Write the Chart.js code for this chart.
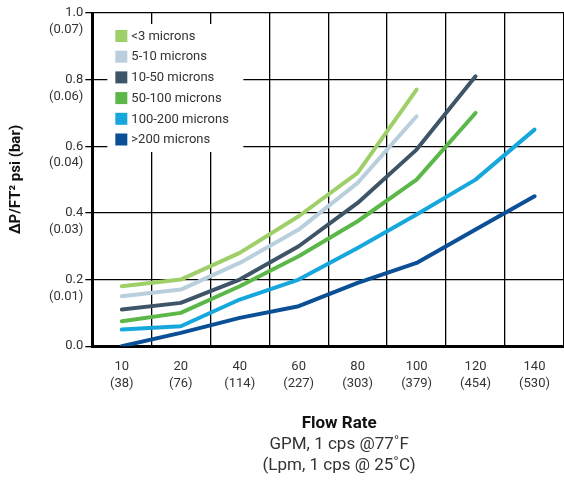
<!DOCTYPE html>
<html>
<head>
<meta charset="utf-8">
<script src="https://cdn.jsdelivr.net/npm/chart.js@4.4.0/dist/chart.umd.min.js"></script>
<style>
html, body { margin: 0; padding: 0; background: #fff; }
#wrap { width: 564px; height: 482px; }
</style>
</head>
<body>
<div id="wrap"><canvas id="myChart"></canvas></div>
<script>
// flow rate categories
const flowGpm = ["10", "20", "40", "60", "80", "100", "120", "140"];
const flowLpm = ["38", "76", "114", "227", "303", "379", "454", "530"];
// y axis, psi with bar below
const psiTicks = [0, 0.2, 0.4, 0.6, 0.8, 1.0];
const barTicks = ["", "(0.01)", "(0.03)", "(0.04)", "(0.06)", "(0.07)"];
// series
const micronLabels = ["<3 microns", "5-10 microns", "10-50 microns", "50-100 microns", "100-200 microns", ">200 microns"];
const under3 = [0.18, 0.20, 0.28, 0.39, 0.52, 0.77];
const from5to10 = [0.15, 0.17, 0.25, 0.35, 0.49, 0.69];
const from10to50 = [0.11, 0.13, 0.20, 0.30, 0.43, 0.59, 0.81];
const from50to100 = [0.075, 0.10, 0.18, 0.27, 0.375, 0.50, 0.70];
const from100to200 = [0.05, 0.06, 0.14, 0.20, 0.295, 0.395, 0.50, 0.65];
const over200 = [0.0, 0.04, 0.085, 0.12, 0.19, 0.25, 0.35, 0.45];
const lineColors = ["#9fcf68", "#b9cfdd", "#3e5568", "#5bb848", "#16a8dd", "#0b4f97"];

const seriesValues = [under3, from5to10, from10to50, from50to100, from100to200, over200];
const FONT = "Roboto, 'Noto Sans', sans-serif";

// legend in a white box inside the plot
const boxLegend = {
  id: "boxLegend",
  afterDraw(chart) {
    const ctx = chart.ctx, a = chart.chartArea;
    const x0 = a.left + 15, y0 = a.top + 11;
    ctx.save();
    ctx.fillStyle = "#fff";
    ctx.fillRect(x0, y0, 136, 128);
    ctx.font = "13px " + FONT;
    ctx.textBaseline = "middle";
    chart.data.datasets.forEach(function (ds, i) {
      const y = y0 + 6 + i * 20.7;
      ctx.fillStyle = ds.borderColor;
      ctx.fillRect(x0 + 8, y, 12, 12);
      ctx.fillStyle = "#333";
      ctx.fillText(ds.label, x0 + 24, y + 6.5);
    });
    ctx.restore();
  }
};

// x axis title, bold line then two plain lines
const flowTitle = {
  id: "flowTitle",
  afterDraw(chart) {
    const ctx = chart.ctx, a = chart.chartArea;
    const cx = (a.left + a.right) / 2 + 11;
    ctx.save();
    ctx.textAlign = "center";
    ctx.textBaseline = "middle";
    ctx.fillStyle = "#111";
    ctx.font = "bold 17px " + FONT;
    ctx.fillText("Flow Rate", cx, a.bottom + 78);
    ctx.fillStyle = "#333";
    ctx.font = "17px " + FONT;
    ctx.fillText("GPM, 1 cps @77˚F", cx, a.bottom + 99);
    ctx.fillText("(Lpm, 1 cps @ 25˚C)", cx, a.bottom + 120);
    ctx.restore();
  }
};

new Chart("myChart", {
  type: "line",
  data: {
    labels: flowGpm,
    datasets: seriesValues.map(function (vals, i) {
      return {
        label: micronLabels[i],
        data: vals,
        borderColor: lineColors[i],
        backgroundColor: lineColors[i],
        borderWidth: 4,
        borderCapStyle: "round",
        borderJoinStyle: "round",
        pointRadius: 0,
        tension: 0,
        fill: false
      };
    })
  },
  options: {
    responsive: true,
    maintainAspectRatio: false,
    animation: false,
    layout: { padding: { left: 7, right: 0, top: 0, bottom: 78 } },
    plugins: {
      legend: { display: false },
      tooltip: { enabled: false }
    },
    scales: {
      x: {
        type: "category",
        offset: true,
        grid: { offset: true, color: "#000", lineWidth: 1.3, drawTicks: false },
        border: { color: "#000", width: 3 },
        ticks: {
          padding: 12,
          color: "#333",
          font: { family: FONT, size: 13, lineHeight: 1.3 },
          maxRotation: 0,
          autoSkip: false,
          callback: function (v, i) { return [flowGpm[i], "(" + flowLpm[i] + ")"]; }
        }
      },
      y: {
        min: 0,
        max: 1,
        afterBuildTicks: function (axis) { axis.ticks = psiTicks.map(function (v) { return { value: v }; }); },
        afterFit: function (axis) { axis.paddingTop = 13; },
        grid: { color: "#000", lineWidth: 1.3, tickLength: 7 },
        border: { color: "#000", width: 3 },
        ticks: {
          padding: 2,
          color: "#333",
          font: { family: FONT, size: 13, lineHeight: 1.3 },
          callback: function (v, i) {
            if (i === 0) return v.toFixed(1);
            return ["", v.toFixed(1), barTicks[i]];
          }
        },
        title: {
          display: true,
          text: "ΔP/FT² psi (bar)",
          color: "#111",
          font: { family: FONT, size: 15, weight: "bold" },
          padding: { top: 0, bottom: 22 }
        }
      }
    }
  },
  plugins: [boxLegend, flowTitle]
});
</script>
</body>
</html>
